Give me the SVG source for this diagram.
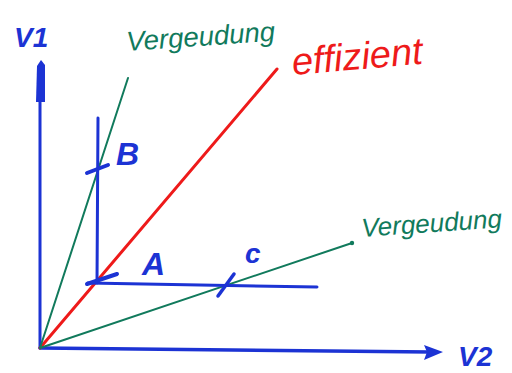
<svg xmlns="http://www.w3.org/2000/svg" width="512" height="373" viewBox="0 0 512 373">
<style>
.blue{stroke:#1c33d4;fill:none;stroke-linecap:round}
.green{stroke:#117a5c;fill:none;stroke-width:2;stroke-linecap:round}
.red{stroke:#ee1a1a;fill:none;stroke-width:3;stroke-linecap:round}
.hb{font-family:"Liberation Sans",sans-serif;font-style:italic;fill:#1c33d4}
.hg{font-family:"Liberation Sans",sans-serif;font-style:italic;fill:#117a5c}
.hr{font-family:"Liberation Sans",sans-serif;font-style:italic;fill:#ee1a1a}
</style>
<rect width="512" height="373" fill="#ffffff"/>
<g id="axes">
<line class="blue" x1="40" y1="348" x2="40" y2="95" stroke-width="3"/>
<polygon points="36,102 37,66 41,60 45,65 45,102" fill="#1c33d4"/>
<line class="blue" x1="40" y1="348" x2="430" y2="352" stroke-width="3.5"/>
<polygon points="424,345 443,352 424,360 427,352" fill="#1c33d4"/>
</g>
<g id="connectors">
<line class="red" x1="40" y1="348" x2="277" y2="69"/>
<line class="green" x1="40" y1="348" x2="128" y2="78"/>
<line class="green" x1="40" y1="348" x2="352" y2="243"/>
<circle cx="352" cy="243" r="2.2" fill="#117a5c"/>
<line class="blue" x1="98" y1="118" x2="97" y2="283" stroke-width="3"/>
<line class="blue" x1="88" y1="283" x2="317" y2="287" stroke-width="3"/>
<line class="blue" x1="87" y1="173" x2="108" y2="165" stroke-width="4"/>
<line class="blue" x1="87" y1="284" x2="117" y2="274" stroke-width="4"/>
<line class="blue" x1="218" y1="296" x2="234" y2="274" stroke-width="3.5"/>
</g>
<g id="label-v1"><text class="hb" x="14" y="47" font-size="28" font-weight="bold">V1</text></g>
<g id="label-v2"><text class="hb" x="458" y="366" font-size="28" font-weight="bold">V2</text></g>
<g id="label-b"><text class="hb" x="116" y="165" font-size="32" font-weight="bold">B</text></g>
<g id="label-a"><text class="hb" x="142" y="275" font-size="32" font-weight="bold">A</text></g>
<g id="label-c"><text class="hb" x="245" y="263" font-size="28" font-weight="bold">c</text></g>
<g id="label-verg1"><text class="hg" x="127" y="51" font-size="27.5" transform="rotate(-4 127 51)">Vergeudung</text></g>
<g id="label-eff"><text class="hr" x="293" y="75" font-size="38" transform="rotate(-5 293 75)">effizient</text></g>
<g id="label-verg2"><text class="hg" x="362" y="237" font-size="26" transform="rotate(-4 362 237)">Vergeudung</text></g>
</svg>
